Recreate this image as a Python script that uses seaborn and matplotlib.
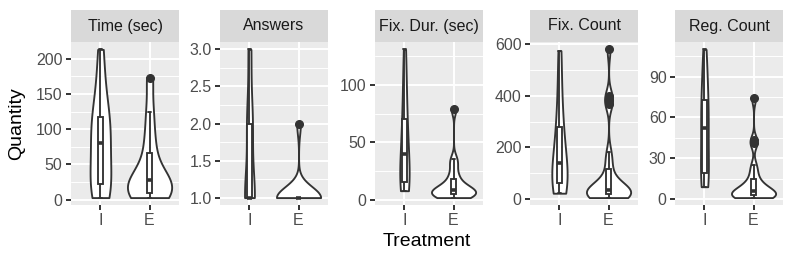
import numpy as np
import pandas as pd
import matplotlib
matplotlib.use("Agg")
import matplotlib.pyplot as plt
import seaborn as sns

# --- data (one list per facet / treatment) ---
panels = ["Time (sec)", "Answers", "Fix. Dur. (sec)", "Fix. Count", "Reg. Count"]
treatments = ["I", "E"]

time_I = [3, 8, 15, 22, 40, 60, 80, 95, 105, 117, 135, 170, 213]
time_E = [3, 5, 8, 10, 15, 20, 28, 30, 40, 66, 90, 125, 173]
answers_I = [1, 1, 1, 1, 1, 1, 1, 2, 2, 2, 2, 3, 3]
answers_E = [1, 1, 1, 1, 1, 1, 1, 1, 1, 1, 1, 1, 2]
fixdur_I = [8, 10, 13, 16, 20, 30, 40, 50, 60, 70, 90, 105, 131]
fixdur_E = [2, 3, 3, 4, 5, 6, 7, 8, 9, 10, 11, 13, 18, 22, 30, 36, 79]
fixcount_I = [22, 30, 45, 60, 90, 120, 140, 180, 230, 280, 350, 450, 575]
fixcount_E = [5, 6, 8, 10, 12, 14, 17, 20, 22, 25, 28, 32, 36, 40, 45, 52, 60,
              80, 116, 150, 182, 370, 384, 398, 580]
regcount_I = [9, 12, 15, 19, 30, 42, 52, 58, 65, 73, 85, 95, 110]
regcount_E = [1, 1, 1, 2, 2, 3, 3, 4, 4, 5, 6, 7, 8, 10, 12, 15, 20, 25, 41, 43, 74]

panel_ticks = [
    [0, 50, 100, 150, 200],
    [1.0, 1.5, 2.0, 2.5, 3.0],
    [0, 50, 100],
    [0, 200, 400, 600],
    [0, 30, 60, 90],
]
tick_fmt = ["{:.0f}", "{:.1f}", "{:.0f}", "{:.0f}", "{:.0f}"]

series = {
    "Time (sec)": (time_I, time_E),
    "Answers": (answers_I, answers_E),
    "Fix. Dur. (sec)": (fixdur_I, fixdur_E),
    "Fix. Count": (fixcount_I, fixcount_E),
    "Reg. Count": (regcount_I, regcount_E),
}

rows = []
for name, (vi, ve) in series.items():
    rows += [(name, "I", v) for v in vi]
    rows += [(name, "E", v) for v in ve]
df = pd.DataFrame(rows, columns=["Measure", "Treatment", "Quantity"])


def bw_nrd0(kde):
    """R's bw.nrd0 (ggplot default), returned as a scipy bandwidth factor."""
    x = np.asarray(kde.dataset).ravel()
    sd = np.std(x, ddof=1)
    iqr = np.subtract(*np.percentile(x, [75, 25]))
    lo = min(sd, iqr / 1.34)
    if lo <= 0:
        lo = sd if sd > 0 else 1.0
    return 0.9 * lo * len(x) ** -0.2 / sd


# --- style (ggplot2 theme_gray look) ---
sns.set_style("white")
plt.rcParams["font.family"] = ["Liberation Sans", "DejaVu Sans"]

W, H = 793, 264
fig = plt.figure(figsize=(W / 100, H / 100), dpi=100)

panel_left = [71, 220, 375, 530, 675]
panel_w = 108
panel_top, panel_bot = 42, 205
strip_top = 10

line_col = "#333333"
lw = 1.35

for i, name in enumerate(panels):
    x0 = panel_left[i] / W
    ax = fig.add_axes([x0, (H - panel_bot) / H, panel_w / W, (panel_bot - panel_top) / H])
    sax = fig.add_axes([x0, (H - panel_top) / H, panel_w / W, (panel_top - strip_top) / H])

    sub = df[df["Measure"] == name]
    ax.set_facecolor("#EBEBEB")

    # ggplot-like limits: data range plus 5 %
    lo, hi = sub["Quantity"].min(), sub["Quantity"].max()
    pad = 0.05 * (hi - lo)
    ylim = (lo - pad, hi + pad)

    ticks = panel_ticks[i]
    step = ticks[1] - ticks[0]
    minor = [t + step / 2 for t in [ticks[0] - step] + ticks]
    minor = [m for m in minor if ylim[0] <= m <= ylim[1]]
    for m in minor:
        ax.axhline(m, color="white", lw=0.7, zorder=0)
    for t in ticks:
        ax.axhline(t, color="white", lw=1.4, zorder=0)
    for xx in range(len(treatments)):
        ax.axvline(xx, color="white", lw=1.4, zorder=0)

    sns.violinplot(data=sub, x="Treatment", y="Quantity", order=treatments,
                   cut=0, density_norm="area", bw_method=bw_nrd0,
                   inner=None, color="white", linecolor=line_col,
                   linewidth=lw, width=0.9, saturation=1, ax=ax, zorder=2)
    sns.boxplot(data=sub, x="Treatment", y="Quantity", order=treatments,
                width=0.12, color="white", linecolor=line_col, linewidth=lw,
                saturation=1, whis=1.5,
                flierprops=dict(marker="o", markerfacecolor=line_col,
                                markeredgecolor=line_col, markersize=5.5),
                medianprops=dict(color=line_col, linewidth=2.6),
                ax=ax, zorder=3)

    ax.set_xlim(-0.6, 1.6)
    ax.set_ylim(*ylim)
    ax.set_yticks(ticks)
    ax.set_yticklabels([tick_fmt[i].format(t) for t in ticks])
    ax.set_xlabel("")
    ax.set_ylabel("")
    for s in ax.spines.values():
        s.set_visible(False)
    ax.tick_params(axis="both", colors=line_col, length=3.6, width=1.4,
                   labelsize=11.5, labelcolor="#4D4D4D", pad=2.5, left=True, bottom=True)
    ax.grid(False)

    sax.set_facecolor("#D9D9D9")
    sax.set_xticks([])
    sax.set_yticks([])
    for s in sax.spines.values():
        s.set_visible(False)
    sax.text(0.5, 0.5, name, ha="center", va="center", fontsize=11.5,
             color="#1A1A1A", transform=sax.transAxes)

fig.text(17 / W, 1 - ((panel_top + panel_bot) / 2) / H, "Quantity", rotation=90,
         ha="center", va="center", fontsize=14, color="black")
fig.text(427 / W, 1 - 242 / H, "Treatment", ha="center", va="center",
         fontsize=14, color="black")

fig.savefig("out.png", dpi=100)
